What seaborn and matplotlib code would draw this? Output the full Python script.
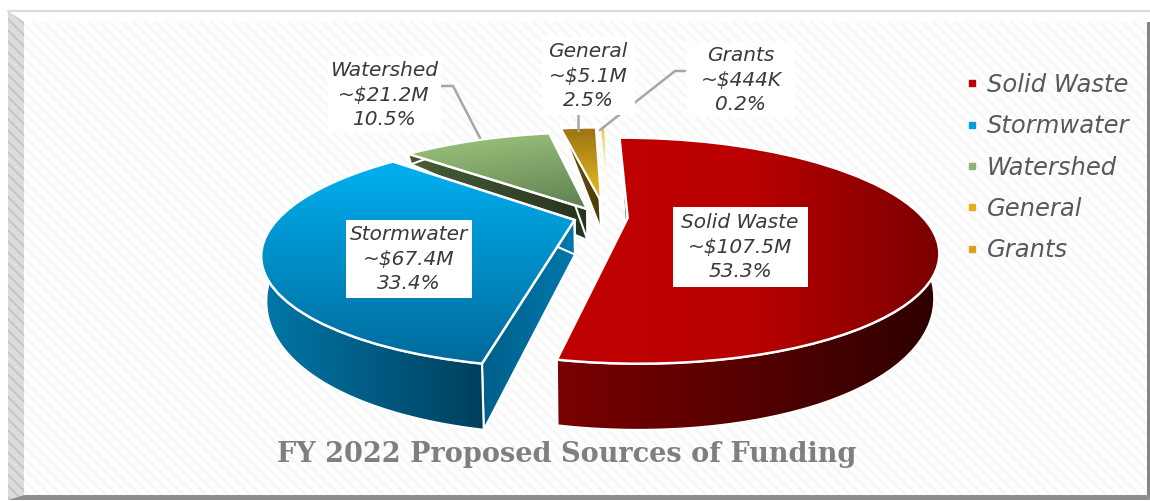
import matplotlib
matplotlib.use('Agg')
import matplotlib.pyplot as plt
import numpy as np
import seaborn as sns
from matplotlib.lines import Line2D
from matplotlib.patches import Polygon, Rectangle
from matplotlib.transforms import Transform

sources = ['Solid Waste', 'Stormwater', 'Watershed', 'General', 'Grants']
amounts = [107.5, 67.4, 21.2, 5.1, 0.444]  # $M
amount_labels = ['~$107.5M', '~$67.4M', '~$21.2M', '~$5.1M', '~$444K']
share_labels = ['53.3%', '33.4%', '10.5%', '2.5%', '0.2%']
title = 'FY 2022 Proposed Sources of Funding'

explode = [0.094, 0.09, 0.09, 0.16, 0.16]
nudge = [0, 0, 0, 0.02, 0.03]
edge_lw = [1.8, 1.8, 1.8, 1.5, 0]
legend_colors = ['#C00000', '#00A0DC', '#8CB573', '#E6B012', '#DCA01E']
top_colors = [['#C00000', '#BA0000', '#7A0000'], ['#00B0F0', '#006A9C'], ['#A0C880', '#5F7F50'],
              ['#9A7212', '#EBC022'], ['#E8C84A', '#FBF3D0', '#FFFFFF']]
top_angle = [0, 90, 70, 90, 90]
rim_colors = [['#7A0000', '#550000', '#2E0000'], ['#0078A8', '#003F5E'], ['#3F5530', '#26331E'],
              ['#6E5210', '#4A370A'], ['#FEFEFE', '#FEFEFE']]
cut_colors = [['#600000', '#400000'], ['#00608A', '#0078AC'], ['#4A5F38', '#26331E'],
              ['#7A5C10', '#4A370A'], ['#FEFEFE', '#FEFEFE']]

# where a label box sits and how its leader runs
label_pos = [(740, 247), (409, 259), (384, 95), (588, 76), (741, 80)]
label_box = [(135, 80), (126, 78), (113, 76), (93, 78), (108, 76)]
leaders = [None, None, [(440, 86), (453, 86), (480, 138)], [(578, 110), (578, 131)],
           [(685, 71), (675, 71), (600, 130)]]

OX, OY = 600, 217
RX, RY, TILT = 295, 103, 0.289


class PieProjection(Transform):
    # pie plane -> pixel position, a flat disc seen in perspective
    input_dims = 2
    output_dims = 2
    is_separable = False
    has_inverse = False

    def transform_non_affine(self, values):
        xy = np.asarray(values, dtype=float).reshape(-1, 2)
        den = 1 + TILT * xy[:, 1]
        return np.column_stack([OX + RX * xy[:, 0] / den, OY - RY * xy[:, 1] / den])


projection = PieProjection()


def lower(pts):
    # same points on the underside of the disc
    pts = np.asarray(pts)
    s = pts[:, 1] - 153
    return np.column_stack([OX + (pts[:, 0] - OX) * 0.985, pts[:, 1] + 10 + 0.4147 * s - 0.000702 * s ** 2])


def shade(patch, colors, angle, z):
    box = patch.get_path().vertices if patch.get_transform() is ax.transData else None
    if box is None:
        box = patch.get_transform().transform_path(patch.get_path()).vertices
        box = ax.transData.inverted().transform(box)
    x0, y0, x1, y1 = box[:, 0].min(), box[:, 1].min(), box[:, 0].max(), box[:, 1].max()
    xx, yy = np.meshgrid(np.linspace(0, 1, 128), np.linspace(0, 1, 128))
    a = np.deg2rad(angle)
    grad = xx * np.cos(a) + yy * np.sin(a)
    grad = (grad - grad.min()) / (grad.max() - grad.min())
    cmap = sns.blend_palette(colors, n_colors=256, as_cmap=True)
    im = ax.imshow(grad, cmap=cmap, extent=(x0, x1, y1, y0), origin='upper', aspect='auto',
                   interpolation='bilinear', zorder=z)
    im.set_clip_path(patch)


sns.set_theme(style='white')
plt.rcParams['hatch.linewidth'] = 1.5
hand = 'DejaVu Sans'

fig = plt.figure(figsize=(11.5, 5.01), dpi=100)
ax = fig.add_axes([0, 0, 1, 1])

wedges, _ = ax.pie(amounts, explode=explode, startangle=90.5, counterclock=False, radius=1)

# frame
ax.add_patch(Rectangle((24, 22), 1123, 473, facecolor='#FEFEFE', edgecolor='#F6F6F6', hatch='\\\\\\', lw=0, zorder=0))
ax.add_patch(Polygon([(8, 11), (24, 22), (24, 495), (8, 500)], facecolor='#DCDCDC', edgecolor='#C6C6C6',
                     hatch='\\\\\\', lw=0, zorder=1))
ax.add_patch(Polygon([(8, 500), (24, 495), (1147, 495), (1150, 500)], facecolor='#8E8E8E', lw=0, zorder=1))
ax.add_patch(Polygon([(1147, 22), (1150, 22), (1150, 500), (1147, 495)], facecolor='#858585', lw=0, zorder=1))
ax.plot([8, 1150], [11, 11], color='#DCDCDC', lw=1.6, zorder=1)

for i, w in enumerate(wedges):
    z = (len(wedges) - i) * 10
    cx, cy = w.center
    cx += nudge[i]
    w.set_center((cx, cy))
    t = np.deg2rad(np.linspace(w.theta1, w.theta2, 80))
    plane = np.column_stack([cx + w.r * np.cos(t), cy + w.r * np.sin(t)])
    rim = projection.transform(plane)
    apex = projection.transform(np.array([[cx, cy]]))
    edge = 'white' if edge_lw[i] else 'none'

    # cut faces, one at each end of the arc, the hidden one ends up under the top
    for corner in (rim[0], rim[-1]):
        top = np.vstack([apex, corner])
        cut = Polygon(np.vstack([top, lower(top)[::-1]]), facecolor='none', edgecolor=edge, lw=1.5, zorder=z + 2)
        ax.add_patch(cut)
        shade(cut, cut_colors[i], 0, z + 1)

    # outer wall
    wall = Polygon(np.vstack([rim, lower(rim)[::-1]]), facecolor='none', edgecolor=edge, lw=1.5, zorder=z + 4)
    ax.add_patch(wall)
    shade(wall, rim_colors[i], 0, z + 3)

    # top face
    w.set_transform(projection + ax.transData)
    w.set_facecolor('none')
    w.set_edgecolor(edge)
    w.set_linewidth(edge_lw[i])
    w.set_zorder(z + 6)
    shade(w, top_colors[i], top_angle[i], z + 5)

for path in leaders:
    if path:
        xs, ys = zip(*path)
        ax.plot(xs, ys, color='#A6A6A6', lw=1.8, zorder=70, solid_joinstyle='miter')

for name, amt, pct, pos, box in zip(sources, amount_labels, share_labels, label_pos, label_box):
    ax.add_patch(Rectangle((pos[0] - box[0] / 2, pos[1] - box[1] / 2), *box, facecolor='white', lw=0, zorder=79))
    ax.text(*pos, f'{name}\n{amt}\n{pct}', ha='center', va='center', fontsize=14.5, linespacing=1.38,
            style='oblique', family=hand, color='#3A3A3A', zorder=80)

handles = [Line2D([], [], linestyle='none', marker='s', markersize=4.3, color=c) for c in legend_colors]
ax.legend(handles, sources, loc='upper left', bbox_to_anchor=(966 / 1150, 1 - 73 / 501), frameon=False,
          prop=dict(family=hand, style='oblique', size=17.5), labelcolor='#595959', handlelength=0.5,
          handletextpad=0.37, labelspacing=0.71, borderaxespad=0, borderpad=0)

ax.text(567, 455, title, ha='center', va='center', fontsize=19.5, fontweight='bold', family='DejaVu Serif',
        color='#7F7F7F', zorder=90)

ax.set_aspect('auto')
ax.set(xlim=(0, 1150), ylim=(501, 0))
ax.set_axis_off()

fig.savefig('out.png', dpi=100, facecolor='white')
